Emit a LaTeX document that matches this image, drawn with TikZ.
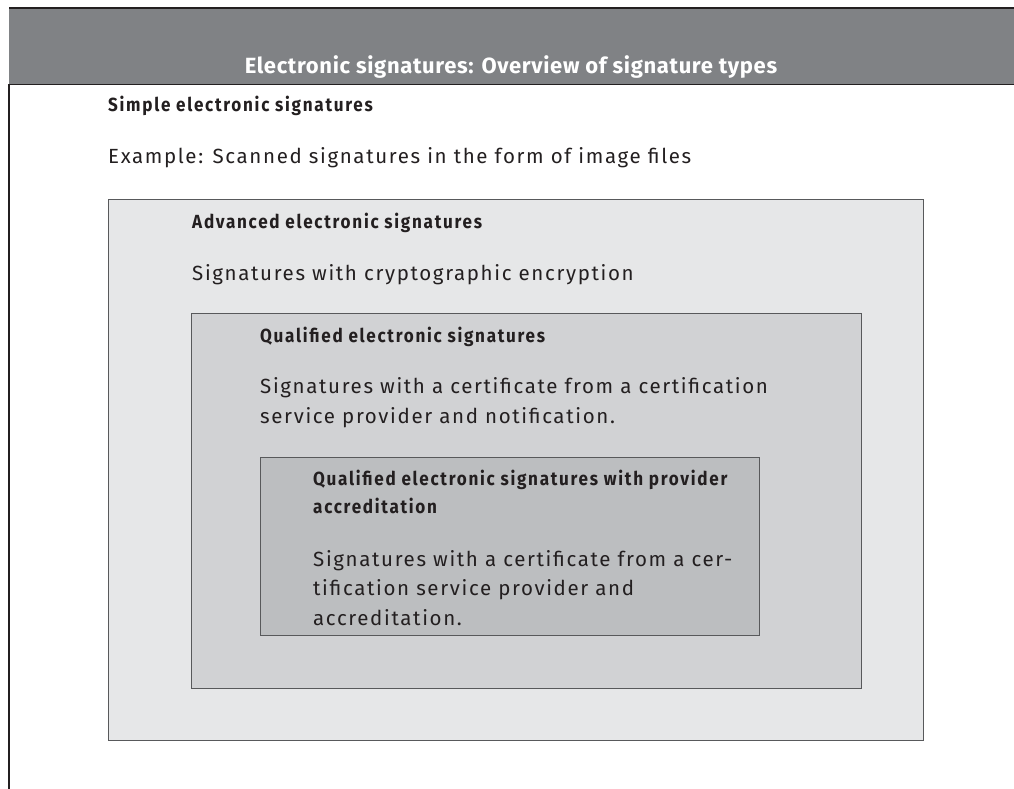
\documentclass[tikz,border=0pt]{standalone}
\usepackage{fontspec}
\setmainfont{Fira Sans}[LetterSpace=8]
\newfontfamily\headfont{Fira Sans}[FakeStretch=0.90, LetterSpace=9]
\newfontfamily\titlefont{Fira Sans}[LetterSpace=3]
\definecolor{barGray}{HTML}{808285}
\definecolor{boxA}{HTML}{E6E7E8}
\definecolor{boxB}{HTML}{D1D2D4}
\definecolor{boxC}{HTML}{BCBEC0}
\definecolor{edgeGray}{HTML}{58595B}
\definecolor{ink}{HTML}{231F20}
\begin{document}
\begin{tikzpicture}[x=1pt, y=-1pt,
  box/.style={draw=edgeGray, line width=1.4pt, anchor=north west, inner sep=0pt},
  hd/.style={anchor=base west, inner sep=0pt, align=left, text=ink, font=\headfont\bfseries\fontsize{19}{28}\selectfont},
  txt/.style={anchor=base west, inner sep=0pt, align=left, text=ink, font=\fontsize{20.5}{29.5}\selectfont}]
\useasboundingbox (0,0) rectangle (1014,789);
% title bar
\node[fill=barGray, anchor=north west, inner sep=0pt, minimum width=1005pt, minimum height=76pt] (bar) at (9,8) {};
\node[anchor=base, inner sep=0pt, text=white, font=\titlefont\bfseries\fontsize{22}{26}\selectfont] (title) at (511,74) {Electronic signatures: Overview of signature types};
\coordinate (foot) at (9,789);
\draw[ink, line width=1.3pt] (bar.north west) -- (bar.north east);
\draw[ink, line width=1.3pt] (bar.south west) -- (bar.south east);
\draw[ink, line width=1.3pt] (bar.south west) -- (foot);
% simple
\node[hd] (simpleHd) at (108,112) {Simple electronic signatures};
\node[txt] (simpleTx) at (108,164) {Example: Scanned signatures in the form of image files};
% advanced
\node[box, fill=boxA, minimum width=815pt, minimum height=541pt] (adv) at (108,199) {};
\node[hd] (advHd) at (192,228) {Advanced electronic signatures};
\node[txt] (advTx) at (192,280) {Signatures with cryptographic encryption};
% qualified
\node[box, fill=boxB, minimum width=670pt, minimum height=375pt] (qual) at (191,313) {};
\node[hd] (qualHd) at (260,342) {Qualified electronic signatures};
\node[txt] (qualTx) at (260,423) {Signatures with a certificate from a certification\\service provider and notification.};
% accredited
\node[box, fill=boxC, minimum width=499pt, minimum height=178pt] (accr) at (260,457) {};
\node[hd] (accrHd) at (313,513) {Qualified electronic signatures with provider\\accreditation};
\node[txt] (accrTx) at (313,625) {Signatures with a certificate from a cer-\\tification service provider and\\accreditation.};
\end{tikzpicture}
\end{document}
